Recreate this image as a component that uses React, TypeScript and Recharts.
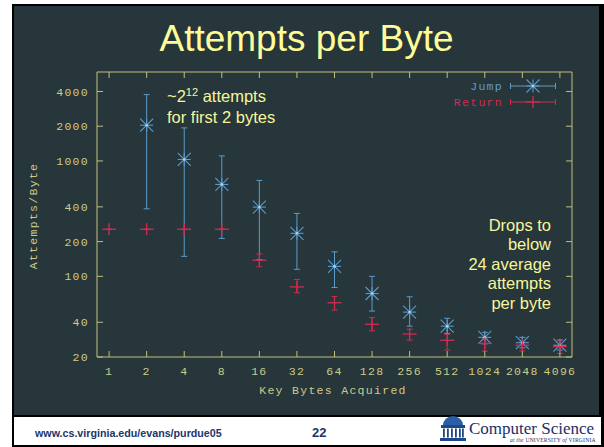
import React from 'react';
import { ScatterChart, Scatter, XAxis, YAxis, ErrorBar, Legend } from 'recharts';

const JUMP = '#5b9bcb';
const RETURN = '#d22b50';
const FRAME = '#c2bf7c';
const INK = '#cccb8a';
const BG = '#26363a';
const NOTE = '#f6f59c';
const NAVY = '#20366b';
const MONO = '"Liberation Mono", "DejaVu Sans Mono", monospace';
const SANS = '"Liberation Sans", Arial, sans-serif';

const xTicks = [1, 2, 4, 8, 16, 32, 64, 128, 256, 512, 1024, 2048, 4096];
const yTicks = [20, 40, 100, 200, 400, 1000, 2000, 4000];

// Jump: mean attempts per byte with low / high extent
const jumpBytes = [2, 4, 8, 16, 32, 64, 128, 256, 512, 1024, 2048, 4096];
const jumpMean = [2040, 1030, 626, 398, 236, 122, 71, 49, 37, 29.6, 26.6, 25.3];
const jumpLow = [385, 149, 213, 140, 115, 80, 50, 37, 32, 26, 24, 23];
const jumpHigh = [3760, 1934, 1107, 678, 351, 163, 100, 66.5, 43.3, 32.7, 29.6, 28];

// Return
const returnBytes = [1, 2, 4, 8, 16, 32, 64, 128, 256, 512, 1024, 2048, 4096];
const returnMean = [256, 256, 256, 256, 138, 81, 59, 38.4, 31.6, 27.9, 26.2, 25.3, 24.6];
const returnLow = [256, 256, 256, 256, 121, 72, 51, 33.7, 28, 23, 22.5, 22.6, 21.5];
const returnHigh = [256, 256, 256, 256, 156, 94, 67, 44, 34.8, 31.5, 28.6, 27, 28];

const toRows = (xs: number[], ys: number[], lo: number[], hi: number[]) =>
  xs.map((x, i) => ({ x, y: ys[i], err: [ys[i] - lo[i], hi[i] - ys[i]] }));

const jumpData = toRows(jumpBytes, jumpMean, jumpLow, jumpHigh);
const returnData = toRows(returnBytes, returnMean, returnLow, returnHigh);

const tickStyle = { fill: INK, fontSize: 11.5, fontFamily: MONO, letterSpacing: 1.3 };

function Star({ cx, cy, color }: any) {
  const r = 6.5;
  return (
    <g stroke={color} strokeWidth={1.1}>
      <line x1={cx - r} y1={cy} x2={cx + r} y2={cy} />
      <line x1={cx} y1={cy - r} x2={cx} y2={cy + r} />
      <line x1={cx - r} y1={cy - r} x2={cx + r} y2={cy + r} />
      <line x1={cx - r} y1={cy + r} x2={cx + r} y2={cy - r} />
      <circle cx={cx} cy={cy} r={1.3} fill="#a9d3f5" stroke="none" />
    </g>
  );
}

function Plus({ cx, cy, color }: any) {
  return (
    <g stroke={color} strokeWidth={1.3}>
      <line x1={cx - 7} y1={cy} x2={cx + 7} y2={cy} />
      <line x1={cx} y1={cy - 6} x2={cx} y2={cy + 6} />
    </g>
  );
}

const seriesStyle: Record<string, { color: string; Mark: any }> = {
  Jump: { color: JUMP, Mark: Star },
  Return: { color: RETURN, Mark: Plus },
};

function renderLegend(props: any) {
  const { payload = [] } = props;
  return (
    <div>
      {payload.map((entry: any) => {
        const s = seriesStyle[entry.value];
        if (!s) return null;
        const { Mark } = s;
        return (
          <div
            key={entry.value}
            style={{ display: 'flex', justifyContent: 'flex-end', alignItems: 'center', height: 16 }}
          >
            <span style={{ color: s.color, fontFamily: MONO, fontSize: 11.5, letterSpacing: 1.3, marginRight: 6 }}>
              {entry.value}
            </span>
            <svg width={48} height={16}>
              <g stroke={s.color} strokeWidth={1}>
                <line x1={1.5} y1={8} x2={46.5} y2={8} />
                <line x1={1.5} y1={5} x2={1.5} y2={11} />
                <line x1={46.5} y1={5} x2={46.5} y2={11} />
              </g>
              <Mark cx={24} cy={8} color={s.color} />
            </svg>
          </div>
        );
      })}
    </div>
  );
}

const blank = () => '';

export default function App() {
  return (
    <div style={{ position: 'fixed', left: 0, top: 0, width: 604, height: 447, background: '#fff', overflow: 'hidden' }}>
      <div style={{ position: 'absolute', left: 12, top: 4, right: 0, bottom: 0, background: '#000' }} />
      <div style={{ position: 'absolute', left: 14, top: 6, width: 585, height: 409, background: BG }} />
      <div style={{ position: 'absolute', left: 14, top: 417, width: 587, height: 28, background: '#fff' }} />

      <div style={{ position: 'absolute', left: 0, top: 0 }}>
        <ScatterChart width={604} height={447} margin={{ top: 62, right: 22, bottom: 60, left: 37 }}>
          <XAxis
            xAxisId="b"
            type="number"
            dataKey="x"
            scale="log"
            domain={[0.8, 5120]}
            allowDataOverflow
            ticks={xTicks}
            interval={0}
            height={30}
            tickSize={-6}
            tickMargin={16}
            stroke={FRAME}
            tick={tickStyle}
          />
          <XAxis
            xAxisId="t"
            orientation="top"
            type="number"
            dataKey="x"
            scale="log"
            domain={[0.8, 5120]}
            allowDataOverflow
            ticks={xTicks}
            interval={0}
            height={10}
            tickSize={-6}
            tickFormatter={blank}
            stroke={FRAME}
          />
          <YAxis
            yAxisId="l"
            type="number"
            dataKey="y"
            scale="log"
            domain={[20, 5900]}
            allowDataOverflow
            ticks={yTicks}
            interval={0}
            width={60}
            tickSize={-6}
            tickMargin={14}
            stroke={FRAME}
            tick={tickStyle}
          />
          <YAxis
            yAxisId="r"
            orientation="right"
            type="number"
            dataKey="y"
            scale="log"
            domain={[20, 5900]}
            allowDataOverflow
            ticks={yTicks}
            interval={0}
            width={10}
            tickSize={-6}
            tickFormatter={blank}
            stroke={FRAME}
          />
          {/* invisible series bound to the mirrored top/right axes */}
          <Scatter
            name="frame"
            data={returnData}
            xAxisId="t"
            yAxisId="r"
            legendType="none"
            shape={() => <g />}
            isAnimationActive={false}
          />
          <Scatter
            name="Jump"
            data={jumpData}
            xAxisId="b"
            yAxisId="l"
            fill={JUMP}
            shape={(p: any) => <Star cx={p.cx} cy={p.cy} color={JUMP} />}
            isAnimationActive={false}
          >
            <ErrorBar dataKey="err" direction="y" width={3} stroke={JUMP} strokeWidth={1} isAnimationActive={false} />
          </Scatter>
          <Scatter
            name="Return"
            data={returnData}
            xAxisId="b"
            yAxisId="l"
            fill={RETURN}
            shape={(p: any) => <Plus cx={p.cx} cy={p.cy} color={RETURN} />}
            isAnimationActive={false}
          >
            <ErrorBar dataKey="err" direction="y" width={3} stroke={RETURN} strokeWidth={1} isAnimationActive={false} />
          </Scatter>
          <Legend
            layout="vertical"
            align="center"
            verticalAlign="middle"
            content={renderLegend}
            wrapperStyle={{ left: 415, top: 78, width: 142 }}
          />
        </ScatterChart>
      </div>

      <div
        style={{
          position: 'absolute', left: 0, top: 20, width: 613, textAlign: 'center',
          fontFamily: SANS, fontSize: 37, lineHeight: '37px', color: '#fdfc98',
        }}
      >
        Attempts per Byte
      </div>

      <div
        style={{
          position: 'absolute', left: 33, top: 216, transform: 'translate(-50%, -50%) rotate(-90deg)',
          whiteSpace: 'nowrap', fontFamily: MONO, fontSize: 11.5, letterSpacing: 1.3, color: INK,
        }}
      >
        Attempts/Byte
      </div>
      <div
        style={{
          position: 'absolute', left: 333, top: 390, transform: 'translate(-50%, -50%)',
          whiteSpace: 'nowrap', fontFamily: MONO, fontSize: 11.5, letterSpacing: 1.3, color: INK,
        }}
      >
        Key Bytes Acquired
      </div>

      <div
        style={{
          position: 'absolute', left: 167, top: 87, fontFamily: SANS, fontSize: 16.5,
          lineHeight: '19px', color: NOTE, whiteSpace: 'nowrap',
        }}
      >
        <div>
          ~2<span style={{ fontSize: 11, position: 'relative', top: -6 }}>12</span> attempts
        </div>
        <div>for first 2 bytes</div>
      </div>

      <div
        style={{
          position: 'absolute', right: 604 - 551, top: 216, fontFamily: SANS, fontSize: 16.5,
          lineHeight: '19.4px', color: NOTE, textAlign: 'right', whiteSpace: 'nowrap',
        }}
      >
        <div>Drops to</div>
        <div>below</div>
        <div>24 average</div>
        <div>attempts</div>
        <div>per byte</div>
      </div>

      <div
        style={{
          position: 'absolute', left: 35, top: 426, fontFamily: SANS, fontWeight: 'bold',
          fontSize: 10.7, lineHeight: '14px', color: NAVY,
        }}
      >
        www.cs.virginia.edu/evans/purdue05
      </div>
      <div
        style={{
          position: 'absolute', left: 312, top: 426, fontFamily: SANS, fontWeight: 'bold',
          fontSize: 13, lineHeight: '14px', color: NAVY,
        }}
      >
        22
      </div>

      <svg width={26} height={29} style={{ position: 'absolute', left: 440, top: 413 }}>
        <path d="M3 12 A10 9 0 0 1 23 12 Z" fill="#2a5ea6" />
        <rect x={1} y={12} width={24} height={3} fill="#1d4787" />
        {[3, 7, 11, 15, 19, 22].map(cx => (
          <rect key={cx} x={cx} y={15.5} width={1.8} height={9} fill="#1d4787" />
        ))}
        <rect x={0} y={25} width={26} height={3} fill="#1d4787" />
      </svg>
      <div
        style={{
          position: 'absolute', left: 469, top: 419, fontFamily: '"Liberation Serif", "Times New Roman", serif',
          fontSize: 17, lineHeight: '20px', color: '#1a2f66', whiteSpace: 'nowrap',
        }}
      >
        Computer Science
      </div>
      <div
        style={{
          position: 'absolute', left: 510, top: 437, fontFamily: '"Liberation Serif", serif',
          fontSize: 5.6, lineHeight: '7px', color: '#1a2f66', whiteSpace: 'nowrap', letterSpacing: 0.2,
        }}
      >
        <i>at the</i> UNIVERSITY <i>of</i> VIRGINIA
      </div>
    </div>
  );
}
